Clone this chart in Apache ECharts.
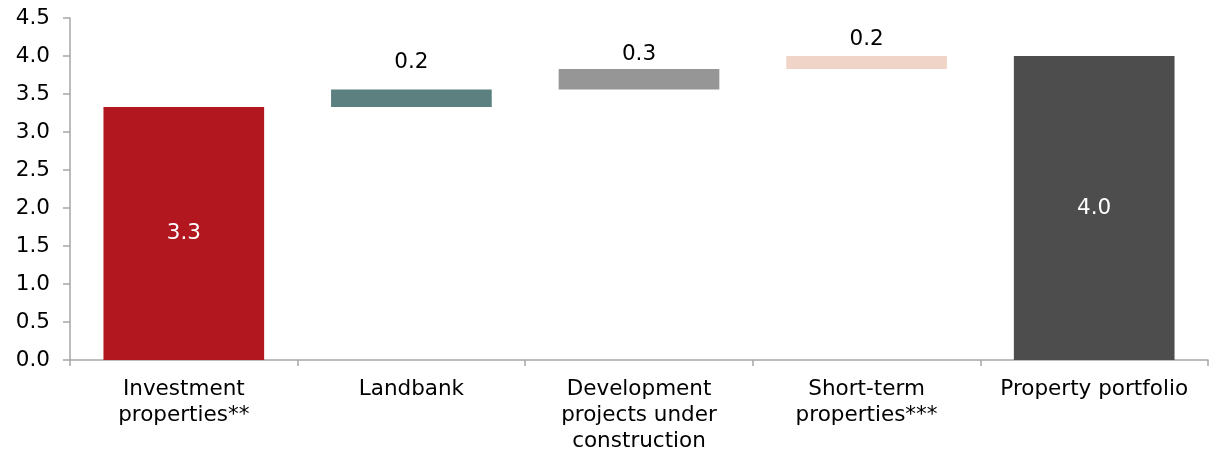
<!DOCTYPE html>
<html>
<head>
<meta charset="utf-8">
<script src="https://cdn.jsdelivr.net/npm/echarts@6/dist/echarts.min.js"></script>
<style>
  html, body { margin: 0; padding: 0; background: #fff; }
  #chart { width: 1215px; height: 449px; }
</style>
</head>
<body>
<div id="chart"></div>
<script>
// categories on the x axis
const categories = [
  'Investment\nproperties**',
  'Landbank',
  'Development\nprojects under\nconstruction',
  'Short-term\nproperties***',
  'Property portfolio'
];
// bar values (first and last are totals, the middle ones are steps)
const values = [3.33, 0.23, 0.27, 0.17, 4.0];
const isTotal = [true, false, false, false, true];
const barColors = ['#b21720', '#5c8080', '#969696', '#f1d4c8', '#4d4d4d'];
// y axis ticks
const yMin = 0, yMax = 4.5, yStep = 0.5;

// invisible base for the floating steps
let running = 0;
const baseValues = values.map((v, i) => {
  if (isTotal[i]) { running = v; return 0; }
  const b = running;
  running += v;
  return b;
});

const labelGap = [0, 16, 3, 6, 0]; // distance of the floating labels above bars
const font = 'DejaVu Sans';

const chart = echarts.init(document.getElementById('chart'));
const option = {
  animation: false,
  grid: { left: 70, right: 7, top: 18, bottom: 89, containLabel: false, outerBoundsMode: 'none' },
  xAxis: {
    type: 'category',
    data: categories,
    axisLine: { lineStyle: { color: '#a6a6a6', width: 1.5 } },
    axisTick: { show: true, length: 6, lineStyle: { color: '#a6a6a6', width: 1.5 } },
    axisLabel: {
      interval: 0,
      margin: 16,
      color: '#000',
      fontFamily: font,
      fontSize: 21.5,
      lineHeight: 26
    }
  },
  yAxis: {
    type: 'value',
    min: yMin,
    max: yMax,
    interval: yStep,
    splitLine: { show: false },
    axisLine: { show: true, lineStyle: { color: '#a6a6a6', width: 1.5 } },
    axisTick: { show: true, length: 7, lineStyle: { color: '#a6a6a6', width: 1.5 } },
    axisLabel: {
      margin: 20,
      color: '#000',
      fontFamily: font,
      fontSize: 21.5,
      formatter: v => v.toFixed(1)
    }
  },
  series: [
    {
      type: 'bar',
      stack: 'w',
      silent: true,
      barWidth: '70.6%',
      itemStyle: { color: 'transparent' },
      data: baseValues
    },
    {
      type: 'bar',
      stack: 'w',
      barWidth: '70.6%',
      data: values.map((v, i) => ({
        value: v,
        itemStyle: { color: barColors[i] },
        label: isTotal[i]
          ? { show: true, position: 'inside', color: '#fff', fontFamily: font, fontSize: 21.5 }
          : { show: true, position: 'top', distance: labelGap[i], color: '#000', fontFamily: font, fontSize: 21.5 }
      })),
      label: { formatter: p => p.value.toFixed(1) }
    }
  ]
};
chart.setOption(option);
</script>
</body>
</html>
